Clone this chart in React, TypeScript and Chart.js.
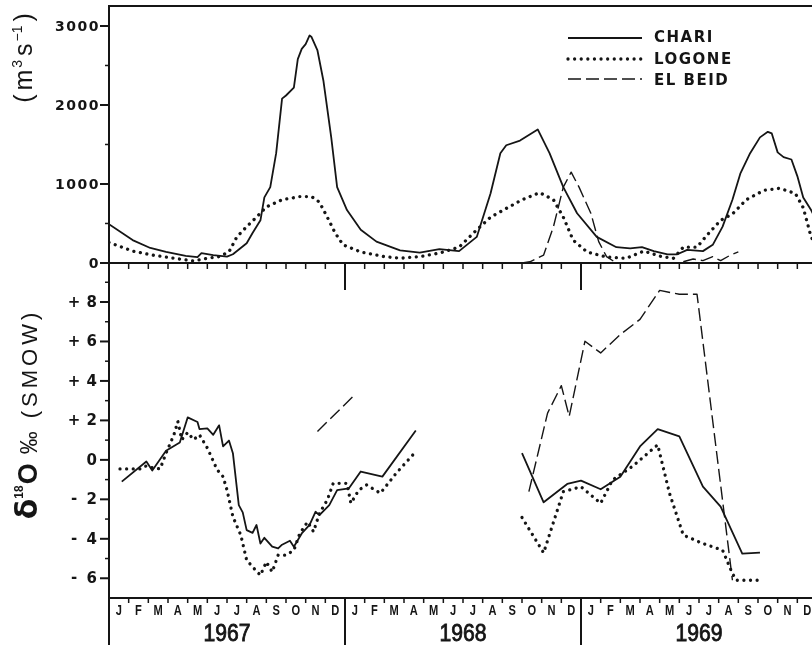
import React, { useEffect, useRef } from "react";
import { Chart, registerables } from "chart.js";

Chart.register(...registerables);

// ---------- labels ----------
const monthLabels = ["J", "F", "M", "A", "M", "J", "J", "A", "S", "O", "N", "D"];
const yearLabels = ["1967", "1968", "1969"];
const dischargeTicks = [0, 1000, 2000, 3000];
const isotopeTicks = [-6, -4, -2, 0, 2, 4, 6, 8];
const seriesNames = ["CHARI", "LOGONE", "EL BEID"];

// ---------- discharge (m3 s-1); x = months since 1 Jan 1967 ----------
const chariQMonths = [0, 1.2, 2.1, 2.9, 3.9, 4.5, 4.7, 5.3, 6.0, 6.3, 7.0, 7.3, 7.7, 7.9, 8.2, 8.5, 8.8, 9.0, 9.4, 9.6, 9.8, 10.0, 10.2, 10.3, 10.6, 10.9, 11.3, 11.6, 12.1, 12.8, 13.6, 14.8, 15.8, 16.8, 17.8, 18.7, 19.4, 19.9, 20.2, 20.9, 21.8, 22.4, 23.1, 23.8, 24.8, 25.8, 26.5, 27.1, 27.7, 28.4, 28.9, 29.4, 30.2, 30.7, 31.2, 31.7, 32.1, 32.6, 33.1, 33.5, 33.7, 34.0, 34.3, 34.7, 35.0, 35.3, 35.7, 36.0];
const chariQ = [490, 290, 190, 140, 90, 75, 125, 100, 80, 110, 250, 380, 540, 830, 960, 1390, 2080, 2120, 2220, 2580, 2710, 2770, 2880, 2860, 2690, 2310, 1590, 960, 670, 420, 270, 160, 130, 175, 150, 330, 880, 1390, 1490, 1550, 1690, 1390, 960, 630, 330, 200, 185, 200, 150, 110, 110, 165, 150, 230, 460, 800, 1130, 1390, 1590, 1660, 1640, 1400, 1340, 1310, 1100, 830, 670, 520];

const logoneQMonths = [0, 1.2, 2.2, 3.3, 4.3, 5.0, 5.6, 6.1, 6.5, 7.0, 7.5, 8.0, 8.8, 9.7, 10.3, 10.7, 11.1, 11.5, 11.9, 12.8, 14.0, 14.8, 15.8, 16.8, 17.8, 18.7, 19.4, 20.2, 21.0, 21.9, 22.6, 23.1, 23.6, 24.3, 25.3, 26.3, 27.2, 28.1, 28.7, 29.2, 29.9, 30.4, 31.1, 31.7, 32.4, 33.3, 34.1, 34.9, 35.3, 35.7, 36.0];
const logoneQ = [260, 150, 100, 60, 25, 60, 80, 140, 330, 460, 580, 710, 800, 840, 840, 770, 580, 380, 230, 140, 80, 60, 80, 125, 200, 420, 580, 690, 800, 890, 800, 580, 290, 140, 75, 60, 150, 80, 60, 200, 200, 350, 540, 620, 800, 920, 945, 880, 700, 330, 200];

const elBeidQMonths = [21.0, 21.4, 22.1, 22.6, 23.1, 23.5, 23.9, 24.5, 24.9, 25.3, 25.8, 26.5, 28.0, 29.2, 29.7, 30.2, 30.7, 31.1, 31.6, 32.0];
const elBeidQ = [0, 15, 100, 460, 960, 1150, 960, 630, 270, 80, 0, 0, null, 15, 50, 30, 80, 30, 100, 140];

// ---------- delta 18O (permil SMOW) ----------
const chariDMonths = [0.65, 1.9, 2.2, 2.9, 3.6, 4.0, 4.5, 4.6, 5.0, 5.3, 5.6, 5.8, 6.1, 6.3, 6.6, 6.8, 7.0, 7.3, 7.5, 7.7, 7.9, 8.3, 8.6, 8.8, 9.2, 9.4, 9.8, 10.2, 10.5, 10.7, 11.2, 11.6, 12.2, 12.8, 13.9, 15.6, 18, 21.0, 22.1, 23.3, 24.0, 25.0, 26.0, 27.0, 27.9, 29.0, 30.2, 31.1, 32.2, 33.1];
const chariD = [-1.1, -0.08, -0.54, 0.46, 0.88, 2.15, 1.92, 1.56, 1.6, 1.27, 1.75, 0.68, 0.98, 0.34, -2.29, -2.66, -3.56, -3.7, -3.3, -4.24, -3.95, -4.4, -4.49, -4.3, -4.1, -4.4, -3.73, -3.3, -2.63, -2.8, -2.29, -1.53, -1.44, -0.59, -0.85, 1.49, null, 0.34, -2.15, -1.22, -1.05, -1.49, -0.85, 0.68, 1.56, 1.19, -1.36, -2.37, -4.75, -4.7];

const logoneDMonths = [0.56, 1.6, 1.9, 2.2, 2.6, 2.9, 3.3, 3.5, 3.7, 4.0, 4.3, 4.6, 5.0, 5.5, 5.8, 6.0, 6.3, 6.7, 7.0, 7.3, 7.7, 8.0, 8.3, 8.6, 9.0, 9.4, 9.7, 10.1, 10.4, 10.7, 11.1, 11.4, 12.1, 12.3, 12.7, 13.1, 13.8, 14.6, 15.6, 18, 21.0, 22.1, 23.1, 24.0, 25.0, 25.6, 26.6, 27.9, 28.5, 29.2, 30.2, 31.2, 31.7, 31.9, 33.1];
const logoneD = [-0.46, -0.46, -0.3, -0.4, -0.46, 0.34, 1.27, 1.95, 1.02, 1.39, 1.02, 1.27, 0.6, -0.5, -0.85, -1.53, -2.88, -3.81, -5.08, -5.42, -5.85, -5.17, -5.68, -4.83, -4.83, -4.58, -3.73, -3.14, -3.64, -2.71, -2.03, -1.19, -1.19, -2.2, -1.53, -1.27, -1.69, -0.68, 0.42, null, -2.92, -4.71, -1.61, -1.36, -2.2, -1.02, -0.34, 0.76, -1.69, -3.81, -4.24, -4.58, -5.76, -6.1, -6.1];

const elBeidDMonths = [10.6, 12.5, 17, 21.35, 22.3, 23.0, 23.4, 24.2, 25.0, 26.0, 27.0, 28.0, 29.0, 29.9, 31.7];
const elBeidD = [1.44, 3.3, null, -1.61, 2.37, 3.76, 2.2, 6.01, 5.42, 6.35, 7.12, 8.59, 8.39, 8.39, -6.1];

// ---------- styles ----------
const INK = "#151515";
const CANVAS_W = 830;
const CANVAS_H = 648;
const styles = [
  { borderWidth: 1.8, borderDash: [] as number[], borderCapStyle: "butt" },
  { borderWidth: 3.3, borderDash: [0.01, 6.6], borderCapStyle: "round" },
  { borderWidth: 1.4, borderDash: [13, 5], borderCapStyle: "butt" },
];

const pts = (xs: number[], ys: (number | null)[]) => xs.map((x, i) => ({ x, y: ys[i] }));

type Run = { text: string; font: string; rise?: number; ls?: number; gap?: number };

function drawRotatedRuns(ctx: CanvasRenderingContext2D, runs: Run[], baseX: number, centerY: number) {
  ctx.save();
  ctx.translate(baseX, centerY);
  ctx.rotate(-Math.PI / 2);
  ctx.textAlign = "left";
  ctx.textBaseline = "alphabetic";
  const widths = runs.map((r) => {
    ctx.font = r.font;
    (ctx as any).letterSpacing = (r.ls || 0) + "px";
    return ctx.measureText(r.text).width;
  });
  const total = widths.reduce((a, w, i) => a + w + (runs[i].gap || 0), 0);
  let x = -total / 2;
  runs.forEach((r, i) => {
    ctx.font = r.font;
    (ctx as any).letterSpacing = (r.ls || 0) + "px";
    ctx.fillText(r.text, x, -(r.rise || 0));
    x += widths[i] + (r.gap || 0);
  });
  ctx.restore();
}

const decorations = {
  id: "decorations",
  afterDatasetsDraw(chart: any) {
    const ctx: CanvasRenderingContext2D = chart.ctx;
    const xs = chart.scales.x;
    const yq = chart.scales.yQ;
    const yd = chart.scales.yD;
    const ca = chart.chartArea;
    const X = (v: number) => xs.getPixelForValue(v);
    const left = ca.left;
    const top = ca.top;
    const bottom = ca.bottom;
    const mid = yq.getPixelForValue(0);
    const lowEnd = 645;

    ctx.save();
    ctx.strokeStyle = INK;
    ctx.fillStyle = INK;
    ctx.lineCap = "butt";
    const seg = (x1: number, y1: number, x2: number, y2: number, w = 2) => {
      ctx.lineWidth = w;
      ctx.beginPath();
      ctx.moveTo(x1, y1);
      ctx.lineTo(x2, y2);
      ctx.stroke();
    };

    // frame
    seg(left - 1, top, CANVAS_W, top, 2);
    seg(left, top, left, lowEnd, 2);
    seg(left, mid, CANVAS_W, mid, 2);
    seg(left, bottom, CANVAS_W, bottom, 2);

    // month ticks
    for (let m = 1; m < 36; m++) {
      const px = X(m);
      if (m % 12 === 0) {
        seg(px, mid, px, mid + 27, 2);
        seg(px, bottom, px, lowEnd, 2);
      } else {
        seg(px, mid, px, mid + 6, 1.5);
        seg(px, bottom, px, bottom + 5, 1.5);
      }
    }

    // discharge axis ticks
    for (let v = 0; v <= 3000; v += 500) {
      const py = yq.getPixelForValue(v);
      if (v % 1000 === 0) seg(left - 9, py, left, py, 2);
      else seg(left - 4, py, left, py, 1.5);
    }
    ctx.font = 'bold 14px "DejaVu Sans"';
    (ctx as any).letterSpacing = "1.5px";
    ctx.textAlign = "right";
    ctx.textBaseline = "middle";
    dischargeTicks.forEach((v) => {
      ctx.fillText(String(v), left - 9, yq.getPixelForValue(v) + 1);
    });

    // isotope axis ticks
    for (let v = -6; v <= 9; v++) {
      const py = yd.getPixelForValue(v);
      if (v % 2 === 0) seg(left - 9, py, left, py, 2);
      else seg(left - 4, py, left, py, 1.5);
    }
    (ctx as any).letterSpacing = "0px";
    isotopeTicks.forEach((v) => {
      const py = yd.getPixelForValue(v) + 1;
      ctx.font = 'bold 15px "DejaVu Sans"';
      ctx.textAlign = "right";
      ctx.fillText(String(Math.abs(v)), left - 12, py);
      if (v !== 0) {
        ctx.textAlign = "center";
        ctx.fillText(v > 0 ? "+" : "-", left - 35, v > 0 ? py : py - 1);
      }
    });

    // month labels
    ctx.textAlign = "center";
    ctx.textBaseline = "middle";
    ctx.font = 'bold 15px "Liberation Sans"';
    for (let y = 0; y < 3; y++) {
      monthLabels.forEach((lab, i) => {
        const cx = X(y * 12 + i + 0.5);
        ctx.save();
        ctx.translate(cx, 611);
        ctx.scale(0.74, 1);
        ctx.fillText(lab, 0, 0);
        ctx.restore();
      });
    }
    // year labels
    ctx.font = '23px "Liberation Sans"';
    ctx.lineWidth = 0.8;
    yearLabels.forEach((lab, i) => {
      const cx = X(i * 12 + 6);
      ctx.save();
      ctx.translate(cx, 635);
      ctx.scale(0.92, 1);
      ctx.fillText(lab, 0, 0);
      ctx.strokeText(lab, 0, 0);
      ctx.restore();
    });

    // axis titles
    drawRotatedRuns(
      ctx,
      [
        { text: "(", font: '25px "Liberation Sans"', gap: 4 },
        { text: "m", font: '25px "Liberation Sans"', gap: 2 },
        { text: "3", font: '14px "Liberation Sans"', rise: 10, gap: 4 },
        { text: "s", font: '25px "Liberation Sans"', gap: 2 },
        { text: "\u22121", font: '14px "Liberation Sans"', rise: 10, gap: 4 },
        { text: ")", font: '25px "Liberation Sans"' },
      ],
      32,
      58
    );
    drawRotatedRuns(
      ctx,
      [
        { text: "\u03b4", font: 'bold 30px "DejaVu Sans"', gap: 0 },
        { text: "18", font: 'bold 12px "Liberation Sans"', rise: 14, gap: 1 },
        { text: "O", font: 'bold 27px "Liberation Sans"', gap: 9 },
        { text: "\u2030", font: '23px "Liberation Sans"', gap: 13 },
        { text: "(SMOW)", font: '22px "Liberation Sans"', ls: 4 },
      ],
      37,
      414
    );

    // legend
    const legendX1 = 568;
    const legendX2 = 642;
    const lineYs = [38, 59, 79];
    const textYs = [38, 60, 81];
    seriesNames.forEach((name, i) => {
      const st = styles[i];
      ctx.save();
      ctx.lineWidth = st.borderWidth;
      ctx.setLineDash(st.borderDash);
      ctx.lineCap = st.borderCapStyle as CanvasLineCap;
      ctx.beginPath();
      ctx.moveTo(legendX1, lineYs[i]);
      ctx.lineTo(legendX2, lineYs[i]);
      ctx.stroke();
      ctx.restore();
      ctx.font = 'bold 15px "DejaVu Sans"';
      (ctx as any).letterSpacing = "1.5px";
      ctx.textAlign = "left";
      ctx.textBaseline = "middle";
      ctx.fillText(name, 654, textYs[i]);
    });
    (ctx as any).letterSpacing = "0px";
    ctx.restore();
  },
};

export default function App() {
  const ref = useRef<HTMLCanvasElement>(null);
  useEffect(() => {
    const canvas = ref.current;
    if (!canvas) return;
    const mk = (label: string, data: any[], axis: string, s: number) => ({
      label,
      data,
      yAxisID: axis,
      borderColor: INK,
      backgroundColor: INK,
      borderWidth: styles[s].borderWidth,
      borderDash: styles[s].borderDash,
      borderCapStyle: styles[s].borderCapStyle,
      borderJoinStyle: "round",
      pointRadius: 0,
      tension: 0,
      spanGaps: false,
      fill: false,
    });
    const chart = new Chart(canvas, {
      type: "line",
      data: {
        datasets: [
          mk(seriesNames[0], pts(chariQMonths, chariQ), "yQ", 0),
          mk(seriesNames[1], pts(logoneQMonths, logoneQ), "yQ", 1),
          mk(seriesNames[2], pts(elBeidQMonths, elBeidQ), "yQ", 2),
          mk(seriesNames[0] + " d18O", pts(chariDMonths, chariD), "yD", 0),
          mk(seriesNames[1] + " d18O", pts(logoneDMonths, logoneD), "yD", 1),
          mk(seriesNames[2] + " d18O", pts(elBeidDMonths, elBeidD), "yD", 2),
        ] as any,
      },
      options: {
        responsive: false,
        animation: false,
        devicePixelRatio: 1,
        layout: { padding: { left: 109, top: 6, right: 13, bottom: 50 } },
        plugins: { legend: { display: false }, tooltip: { enabled: false } },
        scales: {
          x: { type: "linear", min: 0, max: 36, display: false },
          yQ: { type: "linear", min: -4241, max: 3253, display: false },
          yD: { type: "linear", min: -7, max: 23, display: false },
        },
      },
      plugins: [decorations as any],
    });
    return () => chart.destroy();
  }, []);
  return (
    <div
      style={{
        position: "fixed",
        left: 0,
        top: 0,
        width: 812,
        height: 648,
        overflow: "hidden",
        background: "#fff",
      }}
    >
      <canvas ref={ref} width={CANVAS_W} height={CANVAS_H} style={{ display: "block", width: CANVAS_W, height: CANVAS_H }} />
    </div>
  );
}
